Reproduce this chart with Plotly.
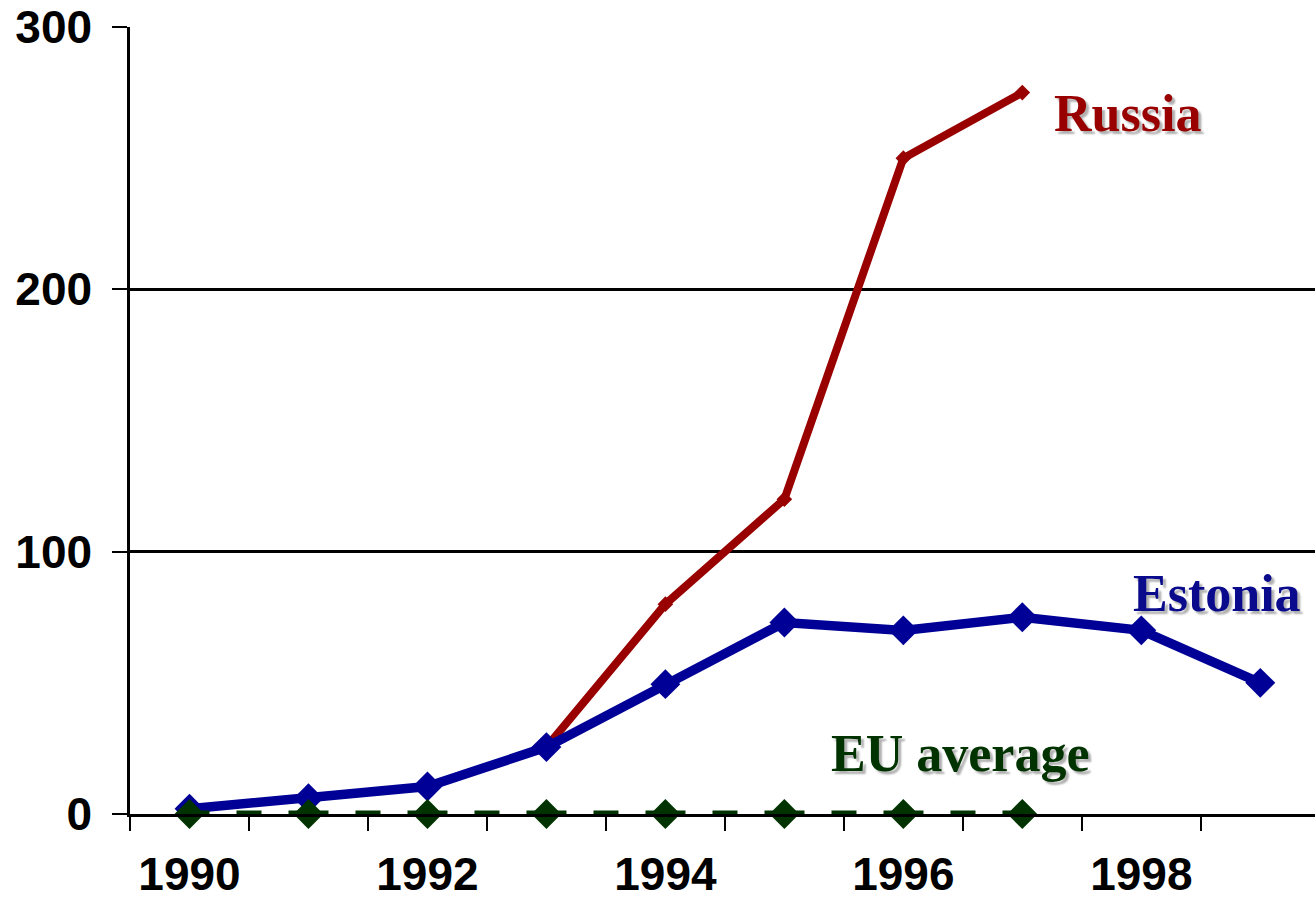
import plotly.graph_objects as go

# ---- data ----
years = [1990, 1991, 1992, 1993, 1994, 1995, 1996, 1997, 1998, 1999]
estonia = [2, 6, 10.5, 25.5, 49.5, 73, 70, 75, 70, 50]
russia_years = [1993, 1994, 1995, 1996, 1997]
russia = [25.5, 80, 120, 250, 275]
eu_years = [1990, 1991, 1992, 1993, 1994, 1995, 1996, 1997]
eu_avg = [0, 0, 0, 0, 0, 0, 0, 0]

y_ticks = [0, 100, 200, 300]
x_labels = [1990, 1992, 1994, 1996, 1998]

RED = "#990000"
BLUE = "#000096"
GREEN = "#003300"

fig = go.Figure()

fig.add_trace(go.Scatter(
    x=russia_years, y=russia, mode="lines+markers", name="Russia",
    line=dict(color=RED, width=8),
    marker=dict(symbol="diamond", size=12, color=RED),
    cliponaxis=False,
))
fig.add_trace(go.Scatter(
    x=years, y=estonia, mode="lines+markers", name="Estonia",
    line=dict(color=BLUE, width=9.5),
    marker=dict(symbol="diamond", size=23, color=BLUE),
    cliponaxis=False,
))
fig.add_trace(go.Scatter(
    x=eu_years, y=eu_avg, mode="lines+markers", name="EU average",
    line=dict(color=GREEN, width=7, dash="20px,27px,25px,27px,20px,0px"),
    marker=dict(symbol="diamond", size=23, color=GREEN),
    cliponaxis=False,
))

# ── Series labels (serif, bold, soft shadow) ──
for text, x, y, color in [
    ("Russia", 1997.88, 267, RED),
    ("Estonia", 1998.64, 84, "#0A0A8C"),
    ("EU average", 1996.48, 23, GREEN),
]:
    fig.add_annotation(
        x=x, y=y, text=text, showarrow=False,
        xanchor="center", yanchor="middle",
        font=dict(family="Liberation Serif, Times New Roman, serif", size=52,
                  color=color, weight="bold", shadow="3px 3px 2px #b0b0b0"),
    )

fig.update_layout(
    width=1315, height=901,
    margin=dict(l=130, r=0, t=27, b=87),
    paper_bgcolor="white", plot_bgcolor="white",
    showlegend=False,
    font=dict(family="Liberation Sans, Arial, sans-serif", color="black"),
)
fig.update_xaxes(
    range=[1989.5, 1999.46], automargin=False,
    tickvals=x_labels, ticktext=[str(v) for v in x_labels],
    ticks="", ticklabelstandoff=18,
    tickfont=dict(size=46, weight="bold", color="black"),
    showgrid=False, zeroline=False,
    showline=True, linecolor="black", linewidth=2.5,
    minor=dict(ticks="outside", ticklen=14, tickwidth=2, tickcolor="black",
               tick0=1989.5, dtick=1, showgrid=False),
)
fig.update_yaxes(
    range=[0, 300], tickvals=y_ticks, automargin=False,
    ticks="outside", ticklen=15, tickwidth=2, tickcolor="black",
    ticklabelstandoff=11,
    tickfont=dict(size=46, weight="bold", color="black"),
    showgrid=True, gridcolor="black", gridwidth=2.5,
    zeroline=False,
    showline=True, linecolor="black", linewidth=2.5,
)

# drop the default 8px body margin so the figure fills the window exactly
fig.write_html("out.html", config={"displayModeBar": False},
               post_script="document.body.style.margin = '0';")
